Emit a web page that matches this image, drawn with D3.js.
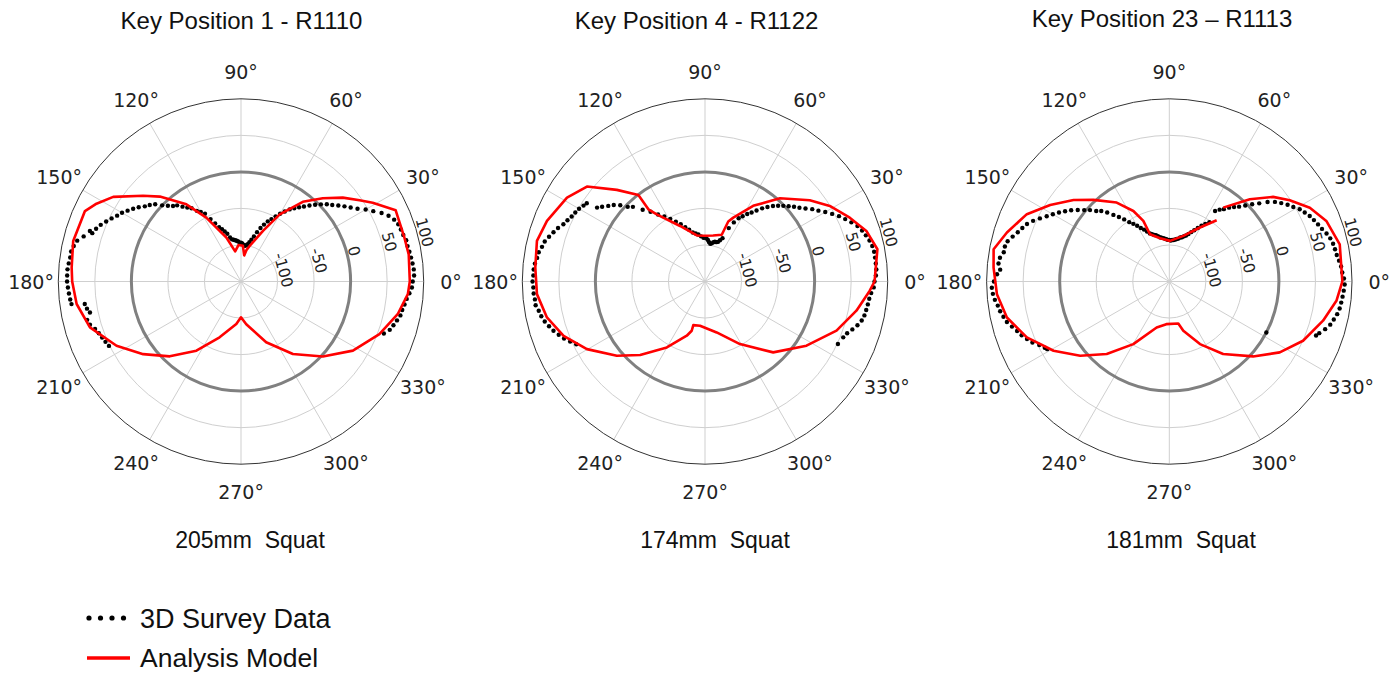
<!DOCTYPE html>
<html>
<head>
<meta charset="utf-8">
<script src="https://cdn.jsdelivr.net/npm/d3@7"></script>
<style>
  html, body { margin: 0; padding: 0; background: #fff; }
  svg { display: block; }
</style>
</head>
<body>
<svg id="chart" width="1399" height="674"></svg>
<script>
// ---- Radial axis ----
const radialDomain = [-150, 100];
const radialTicks = [-100, -50, 0, 50, 100];
const angleTicks = [0, 30, 60, 90, 120, 150, 180, 210, 240, 270, 300, 330];

// ---- Panel text ----
const panelTitles = ["Key Position 1 - R1110", "Key Position 4 - R1122", "Key Position 23 \u2013 R1113"];
const panelSquat = ["205mm  Squat", "174mm  Squat", "181mm  Squat"];

// ---- Key Position 1: analysis model (angle in degrees, value) ----
const model1Angles = [0, 9.2, 15, 24.7, 30.9, 34.4, 39.5, 45.5, 52.2, 60, 66.5, 76.3, 80, 83, 87, 94, 101, 108.4, 118.5, 125.3, 133.7, 138.8, 146.5, 151.7, 155.7, 166.4, 175.3, 180, 187.8, 196.9, 207.3, 216.6, 226.4, 237.2, 249, 263.7, 270, 277, 292.5, 305.6, 317.5, 328.3, 339.2, 348.2, 355.7, 360];
const model1Values = [81, 82.5, 81.5, 83, 60, 46.6, 30.5, 9.7, -12, -44, -74.5, -100, -106, -114, -101, -100, -108, -86.6, -50.5, -20.6, 10.7, 28, 59.7, 74.6, 84.3, 86.2, 82.5, 81, 77, 66, 41.7, 16.7, -8.6, -37.3, -68.2, -91.4, -101, -91, -60, -28, 2, 30, 52.6, 69, 79, 81];

// ---- Key Position 1: 3D survey points ----
const survey1Angles = [340, 342, 344, 346, 348, 350, 352, 354, 356, 358, 0, 2, 4, 6, 8, 10, 12, 14, 16, 18, 20, 22, 24, 26, 28, 30, 32, 34, 36, 38, 40, 42, 44, 46, 48, 50, 52, 54, 56, 58, 60, 62, 64, 66, 68, 70, 72, 74, 76, 78, 80, 82, 84, 86, 88, 90, 92, 94, 96, 98, 100, 102, 104, 106, 108, 110, 112, 114, 116, 118, 120, 122, 124, 126, 128, 130, 132, 134, 136, 138, 140, 142, 144, 146, 148, 150, 152, 154, 156, 158, 160, 161.5, 162, 164, 166, 168, 170, 172, 174, 176, 178, 180, 182, 184, 186, 187.6, 188.2, 190, 191.6, 194, 196, 198, 200, 202, 204, 206];
const survey1Values = [58, 64, 67, 70, 73, 74, 76, 78, 81, 84, 85, 87, 87, 86, 85, 84, 83, 83, 81, 80, 79, 76, 71, 64, 55, 47, 38, 31, 25, 19, 13, 8, 2, -4, -10, -16, -21, -26, -31, -37, -43, -49, -55, -60, -66, -72, -79, -86, -91, -95, -98, -100, -101, -100, -98, -97, -97, -95, -94, -93, -92, -91, -88, -82, -78, -74, -70, -63, -55, -45, -40, -36, -29, -25, -20, -14, -11, -6, 0, 8, 13, 17, 23, 28, 33, 38, 42, 47, 52, 57, 61, 68, 64, 74, 81, 84, 86, 86, 87, 88, 88, 88, 87, 86, 85, 84, 66, 64, 61, 67, 65, 60, 57, 55, 53, 51];

// ---- Key Position 4: analysis model ----
const model2Angles = [0, 10.6, 17.4, 23.8, 31.2, 37.8, 48, 57.5, 66.1, 68.8, 70.3, 80, 90, 100, 114.2, 125.7, 128.1, 127.6, 133.9, 141.2, 148.7, 159, 166.4, 175.3, 184.3, 192.8, 201, 209.8, 220.1, 228.6, 239.9, 251.4, 254.9, 255, 263.6, 282.9, 299.2, 313.9, 327.7, 339.5, 349.1, 356.8, 360];
const model2Values = [82, 90, 81.4, 66.5, 49.6, 31.4, 3.2, -27.3, -54.4, -62, -82, -86, -87.5, -86, -66.7, -36.8, -24.5, -0.6, 24, 57.3, 71, 81.6, 86.6, 83, 80.6, 71.8, 57.3, 36.2, 7.7, -15.8, -45.8, -71.7, -80.2, -88.2, -89.1, -78.5, -51.9, -15.4, 14.3, 42.1, 61, 75.8, 82];

// ---- Key Position 4: 3D survey points ----
const survey2Angles = [334.8, 338, 340, 342, 344, 346, 348, 350, 352, 354, 356, 358, 0, 2, 4, 6, 8, 10, 12, 14, 16, 18, 20, 22, 24, 26, 28, 30, 32, 34, 36, 38, 40, 42, 44, 46, 48, 50, 52, 54, 56, 58, 60, 62, 64, 66, 68, 70, 72, 74, 76, 78, 80, 82, 84, 86, 88, 90, 92, 95, 98, 101, 104, 107, 110, 113, 116, 119, 122, 125, 128, 131, 134, 136, 138, 140, 142, 144, 145.6, 146.5, 148, 150, 152, 154, 156, 158, 160, 162, 164, 166, 168, 170, 172, 174, 176, 178, 180, 182, 184, 186, 188, 190, 192, 194, 196, 198, 200, 202, 204, 206];
const survey2Values = [51, 54, 57, 62, 67, 71, 73, 74, 75, 76, 78, 81, 82, 84, 85, 85, 85, 85, 84, 82, 79, 76, 72, 66, 60, 54, 47, 40, 33, 27, 20, 14, 9, 4, -1, -6, -11, -17, -23, -30, -36, -41, -47, -52, -60, -70, -86, -90, -93, -94, -94, -95, -97, -98, -96, -93, -91, -90, -90, -88, -85, -83, -81, -76, -71, -65, -59, -52, -45, -38, -29, -20, -8, -3, 6, 13, 18, 24, 29, 44, 46, 49, 51, 53, 56, 59, 64, 68, 72, 76, 78, 81, 82, 84, 85, 85, 86, 85, 85, 84, 84, 81, 79, 76, 72, 68, 63, 58, 52, 46];

// ---- Key Position 23: analysis model (open curve) ----
const model3Angles = [52.3, 60.4, 72.9, 89, 102, 112.2, 113.2, 117, 123.7, 132.9, 139.6, 147.3, 154.7, 163.2, 169.6, 175.5, 184.2, 192.5, 201.4, 210.9, 219.8, 229.2, 240.1, 254.6, 266, 282.1, 285.9, 296.1, 306.6, 318.2, 327.3, 336.1, 345.7, 353.4, 360, 372.3, 381.1, 387.7, 394, 399.2, 405.6, 413.9];
const model3Values = [-44, -65, -84.7, -94.4, -89.5, -80.2, -59.8, -41.7, -20.2, 2.5, 22.1, 43.7, 65.6, 82.1, 94.4, 91.2, 86.5, 77.6, 59.4, 34.6, 8.7, -18.9, -51.2, -84.8, -91.5, -91.3, -80, -54.6, -26.4, 3.8, 29.6, 50.2, 67.1, 80.2, 86.8, 88.7, 80.3, 67.2, 48.8, 33.2, 7.5, -24.9];

// ---- Key Position 23: 3D survey points ----
const survey3Angles = [332.3, 339.8, 341, 343, 345, 347, 349, 351, 353, 355, 357, 359, 1, 3, 5, 7, 9, 11, 13, 15, 17, 19, 21, 23, 25, 27, 29, 31, 33, 35, 37, 39, 41, 43, 45, 47, 49, 51, 53, 55, 57,
  56, 58, 60, 62, 64, 66, 68, 70, 72, 74, 76, 78, 80, 82, 84, 86, 88, 90, 92, 94, 96, 98, 100, 102, 104, 106, 108, 110, 112, 114, 116, 118, 120, 122, 124, 126, 128, 130, 132, 134, 136, 138, 140, 142, 144, 146, 148, 150, 152, 154, 156, 158, 160, 162, 164, 166, 168, 170, 172, 174, 176, 177.6, 180, 182, 184, 186, 188, 190, 192, 194, 196, 198, 200, 202, 204, 206, 208, 209];
const survey3Values = [0, 64, 67, 73, 78, 81, 84, 86, 87, 88, 89, 90, 89, 87, 86, 84, 82, 81, 80, 78, 75, 71, 68, 65, 62, 58, 54, 48, 43, 37, 31, 23, 13, 5, -3, -10, -15, -20, -26, -30, -35,
  -52, -57, -62, -67, -72, -76, -80, -83, -85, -87, -88, -90, -91, -92, -93, -93, -94, -93, -93, -92, -91, -90, -89, -88, -86, -84, -83, -81, -79, -75, -71, -67, -62, -57, -52, -45, -38, -31, -23, -16, -11, -4, 2, 9, 16, 22, 28, 34, 40, 47, 54, 60, 64, 68, 73, 78, 80, 80, 84, 85, 82, 86, 90, 93, 92, 90, 87, 85, 82, 79, 74, 69, 65, 60, 55, 48, 43, 41];

const panels = [
  { cx: 241, cy: 281.5, ma: model1Angles, mv: model1Values, closed: true, sa: survey1Angles, sv: survey1Values, title: panelTitles[0], tx: 241.5, ty: 29, squat: panelSquat[0], sx: 250 },
  { cx: 705, cy: 281.5, ma: model2Angles, mv: model2Values, closed: true, sa: survey2Angles, sv: survey2Values, title: panelTitles[1], tx: 696.5, ty: 29, squat: panelSquat[1], sx: 715 },
  { cx: 1169.3, cy: 281.5, ma: model3Angles, mv: model3Values, closed: false, sa: survey3Angles, sv: survey3Values, title: panelTitles[2], tx: 1162, ty: 27, squat: panelSquat[2], sx: 1181 }
];

const svg = d3.select("#chart");
const outerR = 182.7;
const r = d3.scaleLinear().domain(radialDomain).range([0, outerR]);
const toRad = a => (90 - a) * Math.PI / 180; // math angle -> d3 radial angle
const tickFont = "'DejaVu Sans', sans-serif";
const textFont = "'Liberation Sans', Arial, sans-serif";

panels.forEach(p => {
  const g = svg.append("g").attr("transform", `translate(${p.cx},${p.cy})`);

  // light grid rings
  g.selectAll("circle.ring").data(radialTicks.filter(t => t !== 0 && t !== 100)).enter()
    .append("circle").attr("r", d => r(d))
    .attr("fill", "none").attr("stroke", "#cfcfcf").attr("stroke-width", 1);

  // spokes
  g.selectAll("line.spoke").data(angleTicks).enter().append("line")
    .attr("x1", 0).attr("y1", 0)
    .attr("x2", d => outerR * Math.cos(d * Math.PI / 180))
    .attr("y2", d => -outerR * Math.sin(d * Math.PI / 180))
    .attr("stroke", "#cfcfcf").attr("stroke-width", 1);

  // reference ring at zero
  g.append("circle").attr("r", r(0))
    .attr("fill", "none").attr("stroke", "#808080").attr("stroke-width", 3);

  // outer frame
  g.append("circle").attr("r", outerR)
    .attr("fill", "none").attr("stroke", "#333").attr("stroke-width", 1);

  // radial tick labels
  const la = 15 * Math.PI / 180;
  g.selectAll("text.rt").data(radialTicks).enter().append("text")
    .attr("transform", d => {
      const rr = r(d) + 7;
      return `translate(${rr * Math.cos(la)},${-rr * Math.sin(la)}) rotate(75)`;
    })
    .attr("text-anchor", "middle").attr("dominant-baseline", "central")
    .attr("font-family", tickFont).attr("font-size", 15.5).attr("fill", "#222")
    .text(d => d);

  // angular tick labels
  g.selectAll("text.at").data(angleTicks).enter().append("text")
    .attr("x", d => 210 * Math.cos(d * Math.PI / 180))
    .attr("y", d => -210 * Math.sin(d * Math.PI / 180))
    .attr("text-anchor", "middle").attr("dominant-baseline", "central")
    .attr("font-family", tickFont).attr("font-size", 19).attr("fill", "#222")
    .text(d => d + "\u00b0");

  // survey points
  const pts = p.sa.map((a, i) => ({ a, v: p.sv[i] }));
  g.selectAll("circle.pt").data(pts).enter().append("circle")
    .attr("cx", d => r(d.v) * Math.cos(d.a * Math.PI / 180))
    .attr("cy", d => -r(d.v) * Math.sin(d.a * Math.PI / 180))
    .attr("r", 2.2).attr("fill", "#000");

  // analysis model line
  const line = d3.lineRadial().angle(d => toRad(d.a)).radius(d => r(d.v));
  if (p.closed) line.curve(d3.curveLinearClosed);
  const mdl = p.ma.map((a, i) => ({ a, v: p.mv[i] }));
  g.append("path").attr("d", line(mdl))
    .attr("fill", "none").attr("stroke", "#f00").attr("stroke-width", 2.6)
    .attr("stroke-linejoin", "round");

  // title and squat label
  svg.append("text").attr("x", p.tx).attr("y", p.ty)
    .attr("text-anchor", "middle").attr("font-family", textFont).attr("font-size", 24)
    .attr("fill", "#111").text(p.title);
  svg.append("text").attr("x", p.sx).attr("y", 548)
    .attr("text-anchor", "middle").attr("font-family", textFont).attr("font-size", 23)
    .attr("fill", "#111").style("white-space", "pre").text(p.squat);
});

// legend
const legend = svg.append("g");
legend.selectAll("circle").data([89, 100.5, 112, 123.5]).enter().append("circle")
  .attr("cx", d => d).attr("cy", 618).attr("r", 2.6).attr("fill", "#000");
legend.append("text").attr("x", 140).attr("y", 628)
  .attr("font-family", textFont).attr("font-size", 27).attr("fill", "#111").text("3D Survey Data");
legend.append("line").attr("x1", 87).attr("x2", 130).attr("y1", 658).attr("y2", 658)
  .attr("stroke", "#f00").attr("stroke-width", 3.5);
legend.append("text").attr("x", 140).attr("y", 667)
  .attr("font-family", textFont).attr("font-size", 26.5).attr("fill", "#111").text("Analysis Model");
</script>
</body>
</html>
